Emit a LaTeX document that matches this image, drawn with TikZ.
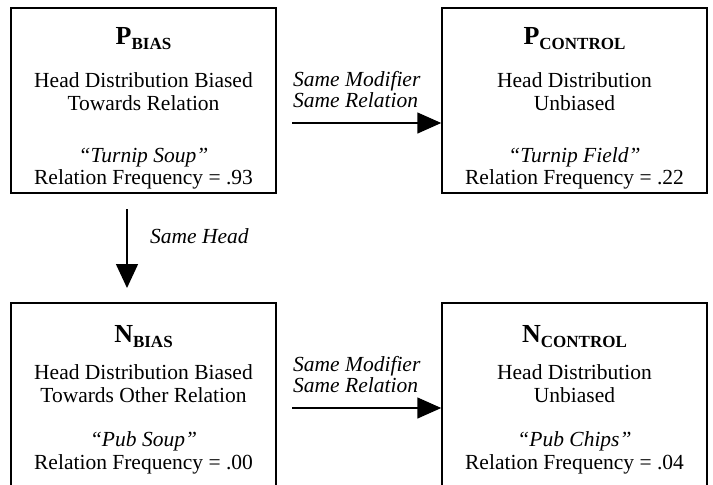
\documentclass[tikz,border=0pt]{standalone}
\usepackage{fontspec}
\setmainfont{Liberation Serif}
\usetikzlibrary{arrows.meta}
\newcommand\mytitle[2]{{\fontsize{26}{26}\selectfont\bfseries #1}{\fontsize{17}{17}\selectfont\bfseries\raisebox{-5pt}{#2}}}
\begin{document}
\begin{tikzpicture}[x=1pt,y=-1pt,
  box/.style={draw, line width=1.5pt, minimum width=265pt, inner sep=0pt},
  txt/.style={anchor=base, inner sep=0pt, font=\fontsize{21.5}{24}\selectfont},
  lbl/.style={anchor=base west, inner sep=0pt, font=\fontsize{21.5}{24}\selectfont\itshape},
  conn/.style={line width=1.5pt, -{Triangle[length=24pt,width=21pt]}}
]
\useasboundingbox (0,0) rectangle (713,485);
\clip (0,0) rectangle (713,485);

% boxes
\node[box, minimum height=185pt] (pb) at (143.5,100.5) {};
\node[box, minimum height=185pt] (pc) at (574.5,100.5) {};
\node[box, minimum height=200pt] (nb) at (143.5,403) {};
\node[box, minimum height=200pt] (nc) at (574.5,403) {};

% P bias
\node[txt] (pbt) at (143.5,44) {\mytitle{P}{BIAS}};
\node[txt] (pb1) at (143.5,87) {Head Distribution Biased};
\node[txt] (pb2) at (143.5,110) {Towards Relation};
\node[txt] (pb3) at (143.5,162) {\itshape “Turnip Soup”};
\node[txt] (pb4) at (143.5,184) {Relation Frequency = .93};

% P control
\node[txt] (pct) at (574.5,44) {\mytitle{P}{CONTROL}};
\node[txt] (pc1) at (574.5,87) {Head Distribution};
\node[txt] (pc2) at (574.5,110) {Unbiased};
\node[txt] (pc3) at (574.5,162) {\itshape “Turnip Field”};
\node[txt] (pc4) at (574.5,184) {Relation Frequency = .22};

% N bias
\node[txt] (nbt) at (143.5,342) {\mytitle{N}{BIAS}};
\node[txt] (nb1) at (143.5,379) {Head Distribution Biased};
\node[txt] (nb2) at (143.5,402) {Towards Other Relation};
\node[txt] (nb3) at (143.5,446) {\itshape “Pub Soup”};
\node[txt] (nb4) at (143.5,469) {Relation Frequency = .00};

% N control
\node[txt] (nct) at (574.5,342) {\mytitle{N}{CONTROL}};
\node[txt] (nc1) at (574.5,379) {Head Distribution};
\node[txt] (nc2) at (574.5,402) {Unbiased};
\node[txt] (nc3) at (574.5,446) {\itshape “Pub Chips”};
\node[txt] (nc4) at (574.5,469) {Relation Frequency = .04};

% top horizontal arrow
\begin{scope}
\clip (285,60) rectangle (435,108);
\node[lbl] (l1a) at (293,86) {Same Modifier};
\node[lbl] (l1b) at (293,107) {Same Relation};
\end{scope}
\coordinate (h1) at (292,123);
\draw[conn] (h1) -- (h1 -| pc.west);

% bottom horizontal arrow
\begin{scope}
\clip (285,345) rectangle (435,393);
\node[lbl] (l2a) at (293,371) {Same Modifier};
\node[lbl] (l2b) at (293,392) {Same Relation};
\end{scope}
\coordinate (h2) at (292,408);
\draw[conn] (h2) -- (h2 -| nc.west);

% vertical arrow
\coordinate (v1) at (127,209);
\coordinate (v2) at (127,288);
\draw[line width=1.5pt, -{Triangle[length=24pt,width=22pt]}] (v1) -- (v2);
\node[lbl] (l3) at (150,243) {Same Head};
\end{tikzpicture}
\end{document}
